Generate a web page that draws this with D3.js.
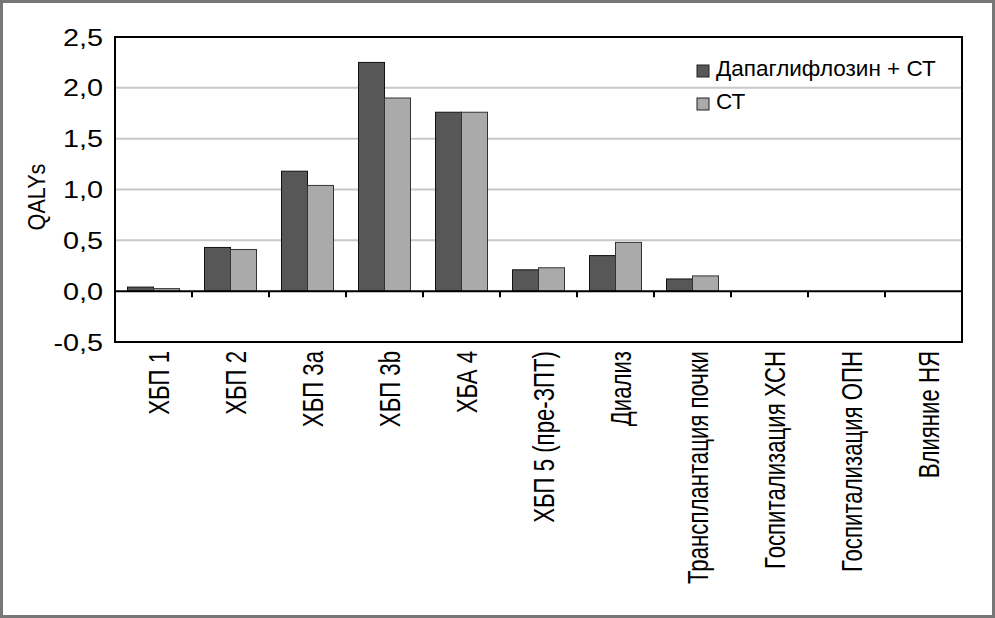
<!DOCTYPE html>
<meta charset="utf-8">
<style>
body { margin: 0; background: #fff; }
text { font-family: "Liberation Sans", Arial, sans-serif; fill: #000; }
</style>
<svg width="995" height="618"></svg>
<script src="https://d3js.org/d3.v7.min.js"></script>
<script>

var categories = ["ХБП 1", "ХБП 2", "ХБП 3a", "ХБП 3b", "ХБА 4", "ХБП 5 (пре-ЗПТ)", "Диализ",
  "Трансплантация почки", "Госпитализация ХСН", "Госпитализация ОПН", "Влияние НЯ"];
var dapa = [0.04, 0.43, 1.18, 2.25, 1.76, 0.21, 0.35, 0.12, 0, 0, 0];
var st = [0.025, 0.41, 1.04, 1.9, 1.76, 0.23, 0.48, 0.15, 0, 0, 0];
var seriesNames = ["Дапаглифлозин + СТ", "СТ"];
var yTicks = [-0.5, 0, 0.5, 1, 1.5, 2, 2.5];

var svg = d3.select("svg"),
    plotL = 115, plotR = 962, plotT = 37, plotB = 342;

// outer frame
svg.append("rect").attr("x", 1.5).attr("y", 1.5).attr("width", 992).attr("height", 615)
    .attr("fill", "#fff").attr("stroke", "#777").attr("stroke-width", 3);

var x = d3.scaleBand().domain(categories).range([plotL, plotR]);
var y = d3.scaleLinear().domain([-0.5, 2.5]).range([plotB, plotT]);

// grid
svg.append("g").selectAll("line")
    .data(yTicks.filter(function(d) { return d > 0 && d < 2.5; }))
  .enter().append("line")
    .attr("x1", plotL).attr("x2", plotR)
    .attr("y1", function(d) { return y(d); }).attr("y2", function(d) { return y(d); })
    .attr("stroke", "#c8c8c8").attr("stroke-width", 2);

// y labels
svg.append("g").selectAll("text")
    .data(yTicks)
  .enter().append("text")
    .attr("transform", function(d) { return "translate(103," + y(d) + ") scale(1.2,1)"; })
    .attr("text-anchor", "end")
    .attr("dy", "0.36em")
    .style("font-size", "24px")
    .text(function(d) { return d3.format(".1f")(d).replace(".", ",").replace("−", "-"); });

svg.append("text")
    .attr("transform", "translate(36,197) rotate(-90) scale(0.9,1)")
    .attr("text-anchor", "middle")
    .attr("dy", "0.36em")
    .style("font-size", "24px")
    .text("QALYs");

// bars
var bw = 26;
var series = [
  { name: seriesNames[0], values: dapa, fill: "#575757", stroke: "#111" },
  { name: seriesNames[1], values: st, fill: "#aaaaaa", stroke: "#333" }
];

series.forEach(function(s, si) {
  svg.append("g").selectAll("rect")
      .data(s.values.map(function(v, i) { return { c: categories[i], v: v }; })
        .filter(function(d) { return d.v > 0; }))
    .enter().append("rect")
      .attr("x", function(d) { return x(d.c) + x.bandwidth() / 2 - bw + si * bw; })
      .attr("y", function(d) { return y(d.v); })
      .attr("width", bw)
      .attr("height", function(d) { return y(0) - y(d.v); })
      .attr("fill", s.fill)
      .attr("stroke", s.stroke)
      .attr("stroke-width", 1);
});

// zero line and category ticks
svg.append("line").attr("x1", plotL).attr("x2", plotR)
    .attr("y1", y(0)).attr("y2", y(0)).attr("stroke", "#000").attr("stroke-width", 2);
svg.append("g").selectAll("line")
    .data(categories.slice(1))
  .enter().append("line")
    .attr("x1", function(d) { return x(d); }).attr("x2", function(d) { return x(d); })
    .attr("y1", y(0)).attr("y2", y(0) + 6)
    .attr("stroke", "#000").attr("stroke-width", 2);

// plot border
svg.append("rect").attr("x", plotL).attr("y", plotT)
    .attr("width", plotR - plotL).attr("height", plotB - plotT)
    .attr("fill", "none").attr("stroke", "#000").attr("stroke-width", 2);

// category labels
svg.append("g").selectAll("text")
    .data(categories)
  .enter().append("text")
    .attr("transform", function(d) {
      return "translate(" + (x(d) + x.bandwidth() / 2 + 5) + ",351) rotate(-90) scale(0.74,1)";
    })
    .attr("text-anchor", "end")
    .attr("dy", "0.36em")
    .style("font-size", "30px")
    .text(function(d) { return d; });

// legend
var legend = svg.append("g").selectAll("g")
    .data(series)
  .enter().append("g")
    .attr("transform", function(d, i) { return "translate(697," + (65 + i * 33) + ")"; });
legend.append("rect").attr("width", 12).attr("height", 12)
    .attr("fill", function(d) { return d.fill; }).attr("stroke", "#222");
legend.append("text").attr("x", 19).attr("y", 11)
    .style("font-size", "22.5px")
    .text(function(d) { return d.name; });

</script>
